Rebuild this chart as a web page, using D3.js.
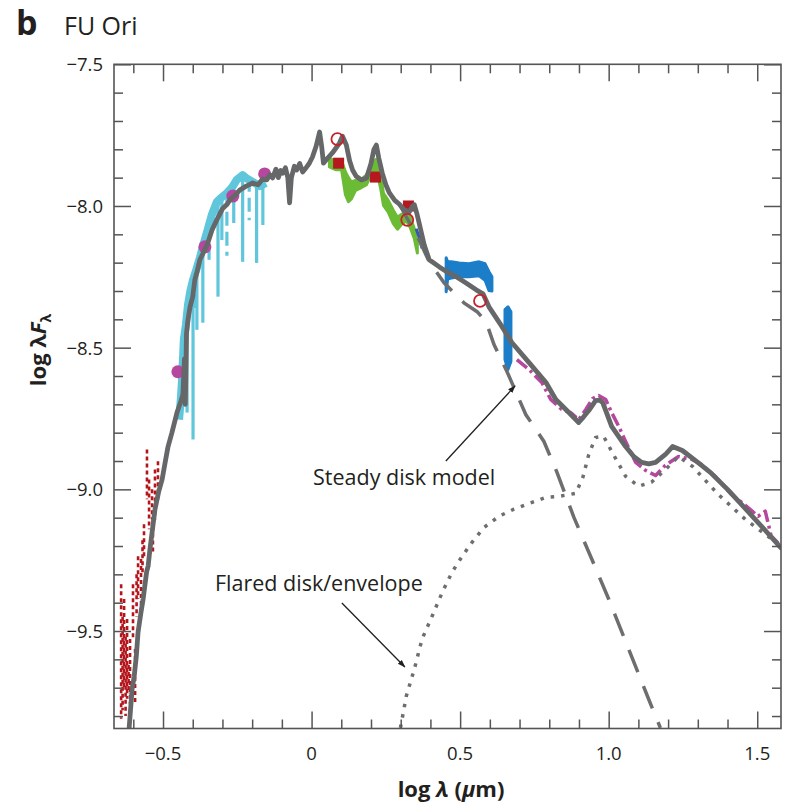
<!DOCTYPE html>
<html>
<head>
<meta charset="utf-8">
<script src="https://cdn.jsdelivr.net/npm/d3@7"></script>
<style>
  body { margin: 0; background: #fff; }
  svg text { font-family: "Open Sans", "Noto Sans", sans-serif; fill: #231f20; }
</style>
</head>
<body>
<svg id="chart" width="788" height="805"></svg>
<script>
// ---- data: x = log λ (µm), y = log λFλ ----

// composite accretion-disk model SED
const modelSED = [[-0.614,-9.842],[-0.604,-9.704],[-0.597,-9.660],[-0.590,-9.590],[-0.584,-9.504],[-0.575,-9.440],[-0.567,-9.387],[-0.560,-9.330],[-0.555,-9.290],[-0.550,-9.270],[-0.544,-9.211],[-0.527,-9.070],[-0.515,-9.010],[-0.503,-8.965],[-0.492,-8.900],[-0.483,-8.849],[-0.470,-8.800],[-0.453,-8.729],[-0.440,-8.690],[-0.433,-8.665],[-0.428,-8.540],[-0.425,-8.700],[-0.421,-8.450],[-0.416,-8.401],[-0.409,-8.356],[-0.400,-8.320],[-0.393,-8.261],[-0.385,-8.230],[-0.376,-8.190],[-0.362,-8.160],[-0.349,-8.130],[-0.335,-8.085],[-0.319,-8.049],[-0.300,-8.010],[-0.285,-7.995],[-0.275,-7.979],[-0.260,-7.965],[-0.242,-7.944],[-0.220,-7.930],[-0.198,-7.919],[-0.180,-7.925],[-0.165,-7.905],[-0.151,-7.908],[-0.140,-7.890],[-0.131,-7.901],[-0.120,-7.870],[-0.112,-7.900],[-0.104,-7.875],[-0.097,-7.884],[-0.088,-7.865],[-0.080,-7.900],[-0.074,-7.989],[-0.068,-7.900],[-0.058,-7.860],[-0.050,-7.873],[-0.040,-7.850],[-0.030,-7.880],[-0.017,-7.863],[-0.008,-7.850],[0.003,-7.827],[0.015,-7.790],[0.027,-7.739],[0.034,-7.790],[0.040,-7.849],[0.055,-7.830],[0.070,-7.813],[0.094,-7.778],[0.104,-7.754],[0.117,-7.785],[0.128,-7.840],[0.138,-7.873],[0.150,-7.895],[0.168,-7.908],[0.185,-7.901],[0.200,-7.850],[0.210,-7.800],[0.218,-7.785],[0.226,-7.830],[0.238,-7.884],[0.250,-7.925],[0.262,-7.954],[0.280,-7.980],[0.295,-7.993],[0.310,-8.012],[0.329,-8.021],[0.340,-8.000],[0.346,-7.996],[0.354,-8.025],[0.362,-8.060],[0.379,-8.137],[0.396,-8.190],[0.430,-8.215],[0.455,-8.232],[0.487,-8.250],[0.520,-8.272],[0.554,-8.296],[0.577,-8.310],[0.597,-8.356],[0.641,-8.426],[0.674,-8.482],[0.732,-8.553],[0.789,-8.623],[0.822,-8.683],[0.866,-8.729],[0.899,-8.764],[0.915,-8.745],[0.933,-8.722],[0.956,-8.687],[0.970,-8.685],[0.980,-8.694],[1.010,-8.778],[1.057,-8.849],[1.085,-8.885],[1.111,-8.905],[1.135,-8.910],[1.158,-8.905],[1.191,-8.877],[1.215,-8.849],[1.248,-8.863],[1.300,-8.905],[1.342,-8.940],[1.400,-9.000],[1.453,-9.060],[1.510,-9.125],[1.580,-9.207]];

// steady (non-flared) disk component, where it departs from the composite
const steadyDisk = [[0.295,-7.993],[0.362,-8.120],[0.396,-8.197],[0.446,-8.271],[0.513,-8.342],[0.557,-8.373],[0.587,-8.408],[0.614,-8.489],[0.658,-8.585],[0.721,-8.736],[0.782,-8.831],[0.826,-8.940],[0.883,-9.099],[0.943,-9.246],[1.000,-9.387],[1.067,-9.563],[1.134,-9.739],[1.174,-9.842]];

// flared disk / envelope component
const flaredDisk = [[0.299,-9.842],[0.319,-9.729],[0.346,-9.634],[0.372,-9.528],[0.406,-9.447],[0.440,-9.363],[0.473,-9.292],[0.507,-9.236],[0.540,-9.187],[0.581,-9.134],[0.631,-9.095],[0.681,-9.070],[0.742,-9.046],[0.789,-9.028],[0.832,-9.025],[0.889,-9.014],[0.913,-8.958],[0.933,-8.877],[0.956,-8.817],[0.983,-8.813],[1.010,-8.866],[1.057,-8.954],[1.101,-8.989],[1.144,-8.975],[1.191,-8.930],[1.235,-8.884],[1.282,-8.919],[1.369,-9.018],[1.460,-9.106],[1.580,-9.200]];

// optical spectrum: continuum envelope and absorption lines [x, top, bottom]
const opticalSpec = [[-0.446,-8.754],[-0.440,-8.680],[-0.436,-8.613],[-0.430,-8.472],[-0.423,-8.420],[-0.416,-8.349],[-0.408,-8.300],[-0.399,-8.261],[-0.388,-8.225],[-0.376,-8.183],[-0.365,-8.140],[-0.352,-8.092],[-0.336,-8.032],[-0.319,-7.986],[-0.303,-7.970],[-0.285,-7.954],[-0.268,-7.935],[-0.252,-7.908],[-0.232,-7.891],[-0.215,-7.905],[-0.198,-7.915],[-0.174,-7.930],[-0.154,-7.919]];
const opticalLines = [[-0.426,-8.45,-8.600],[-0.419,-8.39,-8.729],[-0.399,-8.26,-8.824],[-0.392,-8.24,-8.380],[-0.386,-8.24,-8.437],[-0.366,-8.17,-8.412],[-0.345,-8.07,-8.200],[-0.315,-7.99,-8.320],[-0.302,-7.97,-8.120],[-0.285,-7.95,-8.176],[-0.262,-7.93,-8.060],[-0.232,-7.89,-8.197],[-0.210,-7.90,-8.050],[-0.185,-7.92,-8.201],[-0.164,-7.92,-8.067]];

// ultraviolet spectrum segments [x, top, bottom]
const uvSpec = [[-0.641,-9.335,-9.810],[-0.636,-9.450,-9.780],[-0.631,-9.387,-9.704],[-0.626,-9.520,-9.800],[-0.621,-9.458,-9.739],[-0.616,-9.620,-9.720],[-0.611,-9.528,-9.757],[-0.601,-9.335,-9.528],[-0.594,-9.563,-9.757],[-0.589,-9.300,-9.450],[-0.584,-9.236,-9.387],[-0.574,-9.246,-9.423],[-0.569,-9.180,-9.300],[-0.564,-9.123,-9.246],[-0.554,-8.859,-9.035],[-0.547,-8.965,-9.141],[-0.537,-9.000,-9.106],[-0.534,-9.106,-9.229],[-0.527,-8.930,-9.106],[-0.517,-8.901,-9.035]];

// near-infrared spectrum [x, top, bottom]
const nirSpec = [[0.060,-7.830,-7.862],[0.081,-7.845,-7.872],[0.101,-7.840,-7.872],[0.114,-7.880,-7.960],[0.124,-7.900,-7.985],[0.134,-7.915,-7.975],[0.148,-7.910,-7.945],[0.168,-7.905,-7.935],[0.185,-7.890,-7.925],[0.201,-7.850,-7.888],[0.218,-7.835,-7.872],[0.232,-7.890,-7.935],[0.242,-7.955,-7.998],[0.258,-7.980,-8.022],[0.275,-8.015,-8.062],[0.289,-8.040,-8.082],[0.302,-8.030,-8.066],[0.319,-8.020,-8.052],[0.332,-8.040,-8.076],[0.346,-8.080,-8.116],[0.356,-8.130,-8.166]];
const nirSpecEdge = [[0.352,-8.080],[0.362,-8.110],[0.372,-8.150]];

// 3–5 µm spectra, flux bands [x, top, bottom]
const lBand = [[0.453,-8.183,-8.303],[0.458,-8.197,-8.258],[0.470,-8.197,-8.254],[0.497,-8.201,-8.250],[0.530,-8.204,-8.250],[0.564,-8.197,-8.246],[0.584,-8.204,-8.262],[0.597,-8.232,-8.298],[0.607,-8.250,-8.300]];
const mBand = [[0.651,-8.366,-8.542],[0.661,-8.356,-8.577],[0.671,-8.373,-8.549]];

// mid-infrared spectrum
const midIRSpec = [[0.691,-8.542],[0.732,-8.577],[0.775,-8.623],[0.805,-8.683],[0.842,-8.718],[0.872,-8.729],[0.899,-8.754],[0.923,-8.718],[0.946,-8.680],[0.966,-8.669],[0.990,-8.683],[1.010,-8.729],[1.034,-8.778],[1.057,-8.831],[1.091,-8.905],[1.124,-8.933],[1.158,-8.951],[1.191,-8.915],[1.235,-8.884],[1.279,-8.894],[1.312,-8.912],[1.359,-8.954],[1.413,-9.018],[1.460,-9.056],[1.503,-9.095],[1.527,-9.077],[1.547,-9.165],[1.575,-9.194]];

// broadband photometry
const photometryUBVR = [[-0.450,-8.585],[-0.359,-8.144],[-0.265,-7.965],[-0.158,-7.887]];
const photometryJHK = [[0.091,-7.849],[0.215,-7.898],[0.326,-8.000]];
const photometryOpen = [[0.087,-7.764],[0.322,-8.049],[0.567,-8.335]];

// axis ticks
const xMajor = [-0.5, 0, 0.5, 1.0, 1.5];
const xMajorLabels = ["\u22120.5", "0", "0.5", "1.0", "1.5"];
const xMinor = [-0.6,-0.4,-0.3,-0.2,-0.1,0.1,0.2,0.3,0.4,0.6,0.7,0.8,0.9,1.1,1.2,1.3,1.4];
const yMajor = [-7.5, -8.0, -8.5, -9.0, -9.5];
const yMajorLabels = ["\u22127.5", "\u22128.0", "\u22128.5", "\u22129.0", "\u22129.5"];
const yMinor = [-7.6,-7.7,-7.8,-7.9,-8.1,-8.2,-8.3,-8.4,-8.6,-8.7,-8.8,-8.9,-9.1,-9.2,-9.3,-9.4,-9.6,-9.7,-9.8];

// ---- layout ----
const frameL = 114, frameR = 781, frameT = 64.3, frameB = 728.5;
const x = d3.scaleLinear().domain([-0.665, 1.58]).range([frameL, frameR]);
const y = d3.scaleLinear().domain([-9.844, -7.5]).range([frameB, frameT]);

const svg = d3.select("#chart");
const defs = svg.append("defs");
defs.append("clipPath").attr("id", "plot-clip")
  .append("rect").attr("x", frameL).attr("y", frameT)
  .attr("width", frameR - frameL).attr("height", frameB - frameT);
defs.append("marker").attr("id", "arrowhead")
  .attr("viewBox", "0 0 10 10").attr("refX", 9).attr("refY", 5)
  .attr("markerWidth", 8).attr("markerHeight", 8).attr("orient", "auto")
  .attr("markerUnits", "userSpaceOnUse")
  .append("path").attr("d", "M0,1.5 L10,5 L0,8.5 Z").attr("fill", "#231f20");

const plot = svg.append("g").attr("clip-path", "url(#plot-clip)");
const line = d3.line().x(d => x(d[0])).y(d => y(d[1]));
const band = d3.area().x(d => x(d[0])).y0(d => y(d[2])).y1(d => y(d[1]));

const COL = { model: "#666769", uv: "#b3151b", opt: "#5fc6dc", nir: "#6cbb35", blue: "#1c7dc8", mag: "#b5479f", red: "#b5191f" };

// ultraviolet spectrum
plot.selectAll(".uv").data(uvSpec).join("line")
  .attr("x1", d => x(d[0])).attr("x2", d => x(d[0]))
  .attr("y1", d => y(d[1])).attr("y2", d => y(d[2]))
  .attr("stroke", COL.uv).attr("stroke-width", 2.6).attr("stroke-dasharray", "4,3");

// optical spectrum
plot.append("path").datum(opticalSpec).attr("d", line)
  .attr("fill", "none").attr("stroke", COL.opt).attr("stroke-width", 8).attr("stroke-linejoin", "round");
plot.selectAll(".abs").data(opticalLines).join("line")
  .attr("x1", d => x(d[0])).attr("x2", d => x(d[0]))
  .attr("y1", d => y(d[1])).attr("y2", d => y(d[2]))
  .attr("stroke", COL.opt).attr("stroke-width", 3.2)
  .attr("stroke-dasharray", (d, i) => i % 3 === 0 ? "14,6" : null);

// near-infrared spectrum
plot.append("path").datum(nirSpec).attr("d", band).attr("fill", COL.nir)
  .attr("stroke", COL.nir).attr("stroke-width", 3).attr("stroke-linejoin", "round");
plot.append("path").datum(nirSpecEdge).attr("d", line)
  .attr("fill", "none").attr("stroke", "#3557b5").attr("stroke-width", 3);

// 3-5 µm spectra
plot.append("path").datum(lBand).attr("d", band).attr("fill", COL.blue)
  .attr("stroke", COL.blue).attr("stroke-width", 3).attr("stroke-linejoin", "round");
plot.append("path").datum(mBand).attr("d", band).attr("fill", COL.blue)
  .attr("stroke", COL.blue).attr("stroke-width", 3).attr("stroke-linejoin", "round");

// mid-infrared spectrum
plot.append("path").datum(midIRSpec).attr("d", line)
  .attr("fill", "none").attr("stroke", COL.mag).attr("stroke-width", 3.5)
  .attr("stroke-dasharray", "13,4,3,4").attr("stroke-linejoin", "round");

// photometry
plot.selectAll(".ubvr").data(photometryUBVR).join("circle")
  .attr("cx", d => x(d[0])).attr("cy", d => y(d[1])).attr("r", 6.5).attr("fill", COL.mag);
plot.selectAll(".jhk").data(photometryJHK).join("rect")
  .attr("x", d => x(d[0]) - 5.5).attr("y", d => y(d[1]) - 5.5)
  .attr("width", 11).attr("height", 11).attr("fill", COL.red);

// model components
plot.append("path").datum(flaredDisk).attr("d", line)
  .attr("fill", "none").attr("stroke", "#6d6e70").attr("stroke-width", 3.5)
  .attr("stroke-dasharray", "3.5,7");
plot.append("path").datum(steadyDisk).attr("d", line)
  .attr("fill", "none").attr("stroke", "#6d6e70").attr("stroke-width", 3.5)
  .attr("stroke-dasharray", "24,15");
plot.append("path").datum(modelSED).attr("d", line)
  .attr("fill", "none").attr("stroke", COL.model).attr("stroke-width", 4.8)
  .attr("stroke-linejoin", "round").attr("stroke-linecap", "round");

plot.selectAll(".open").data(photometryOpen).join("circle")
  .attr("cx", d => x(d[0])).attr("cy", d => y(d[1])).attr("r", 6)
  .attr("fill", "none").attr("stroke", "#c8202a").attr("stroke-width", 1.8);

// ---- axes: ticks point inward on all four sides ----
function ticks(axisFn, pos, values, size) {
  const g = svg.append("g").attr("transform", pos)
    .call(axisFn.tickValues(values).tickSize(-size).tickFormat(""));
  g.select(".domain").remove();
  g.selectAll("line").attr("stroke", "#555").attr("stroke-width", 1.5);
}
ticks(d3.axisBottom(x), `translate(0,${frameB})`, xMinor, 9);
ticks(d3.axisBottom(x), `translate(0,${frameB})`, xMajor, 17);
ticks(d3.axisTop(x), `translate(0,${frameT})`, xMinor, 9);
ticks(d3.axisTop(x), `translate(0,${frameT})`, xMajor, 17);
ticks(d3.axisLeft(y), `translate(${frameL},0)`, yMinor, 9);
ticks(d3.axisLeft(y), `translate(${frameL},0)`, yMajor, 17);
ticks(d3.axisRight(y), `translate(${frameR},0)`, yMinor, 9);
ticks(d3.axisRight(y), `translate(${frameR},0)`, yMajor, 17);

svg.append("rect").attr("x", frameL).attr("y", frameT)
  .attr("width", frameR - frameL).attr("height", frameB - frameT)
  .attr("fill", "none").attr("stroke", "#555").attr("stroke-width", 1.6);

// tick labels
svg.selectAll(".xl").data(xMajor).join("text")
  .attr("x", d => x(d)).attr("y", frameB + 31)
  .attr("text-anchor", "middle").attr("font-size", 18.5)
  .text((d, i) => xMajorLabels[i]);
svg.selectAll(".yl").data(yMajor).join("text")
  .attr("x", frameL - 11).attr("y", d => y(d)).attr("dy", "0.38em")
  .attr("text-anchor", "end").attr("font-size", 18.5)
  .text((d, i) => yMajorLabels[i]);

// axis titles
const xt = svg.append("text").attr("x", 451).attr("y", 797)
  .attr("text-anchor", "middle").attr("font-size", 22).attr("font-weight", "bold");
xt.append("tspan").text("log ");
xt.append("tspan").attr("font-style", "italic").text("λ");
xt.append("tspan").text(" (");
xt.append("tspan").attr("font-style", "italic").text("μ");
xt.append("tspan").text("m)");

const yt = svg.append("text").attr("transform", "translate(46,350) rotate(-90)")
  .attr("text-anchor", "middle").attr("font-size", 22).attr("font-weight", "bold");
yt.append("tspan").text("log ");
yt.append("tspan").text("λ");
yt.append("tspan").attr("font-style", "italic").text("F");
yt.append("tspan").attr("font-size", 14).attr("dy", 5).text("λ");

// panel title
svg.append("text").attr("x", 16).attr("y", 35).attr("font-size", 34).attr("font-weight", "bold").text("b");
svg.append("text").attr("x", 64).attr("y", 35).attr("font-size", 25).attr("fill", "#333").text("FU Ori");

// component annotations
svg.append("text").attr("x", x(0.005)).attr("y", y(-8.984)).attr("font-size", 21.5).text("Steady disk model");
svg.append("line").attr("x1", x(0.452)).attr("y1", y(-8.900)).attr("x2", x(0.685)).attr("y2", y(-8.635))
  .attr("stroke", "#231f20").attr("stroke-width", 1.3).attr("marker-end", "url(#arrowhead)");
svg.append("text").attr("x", x(-0.325)).attr("y", y(-9.359)).attr("font-size", 21.5).text("Flared disk/envelope");
svg.append("line").attr("x1", x(0.102)).attr("y1", y(-9.401)).attr("x2", x(0.314)).attr("y2", y(-9.627))
  .attr("stroke", "#231f20").attr("stroke-width", 1.3).attr("marker-end", "url(#arrowhead)");
</script>
</body>
</html>
